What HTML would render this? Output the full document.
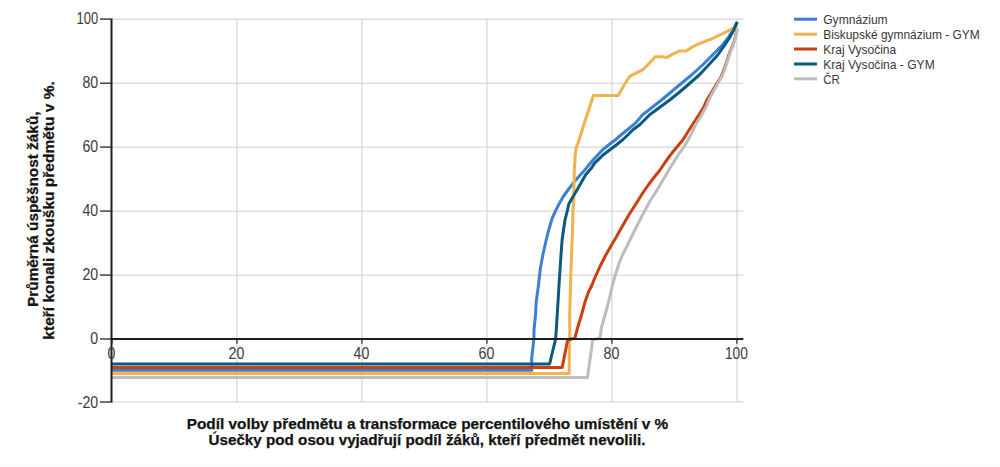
<!DOCTYPE html>
<html><head><meta charset="utf-8"><title>Chart</title>
<style>
html,body{margin:0;padding:0;background:#fff;}
body{width:1000px;height:467px;overflow:hidden;}
svg{display:block;}
text{font-family:"Liberation Sans",sans-serif;}
.num{font-size:16px;fill:#3c3c3c;}
.leg{font-size:12.6px;fill:#383838;}
.ttl{font-size:14px;font-weight:bold;fill:#141414;stroke:#141414;stroke-width:0.25px;}
</style></head>
<body>
<svg width="1000" height="467" viewBox="0 0 1000 467">
<rect width="1000" height="467" fill="#fff"/>
<rect x="0" y="464" width="1000" height="3" fill="#fbfbfb"/>
<line x1="112" y1="19.1" x2="743.5" y2="19.1" stroke="#cdcdcd" stroke-width="1"/>
<line x1="112" y1="83.2" x2="743.5" y2="83.2" stroke="#cdcdcd" stroke-width="1"/>
<line x1="112" y1="147.1" x2="743.5" y2="147.1" stroke="#cdcdcd" stroke-width="1"/>
<line x1="112" y1="211.1" x2="743.5" y2="211.1" stroke="#cdcdcd" stroke-width="1"/>
<line x1="112" y1="275.1" x2="743.5" y2="275.1" stroke="#cdcdcd" stroke-width="1"/>
<line x1="112" y1="402.0" x2="743.5" y2="402.0" stroke="#cdcdcd" stroke-width="1"/>
<line x1="236.9" y1="19" x2="236.9" y2="402" stroke="#cdcdcd" stroke-width="1"/>
<line x1="361.9" y1="19" x2="361.9" y2="402" stroke="#cdcdcd" stroke-width="1"/>
<line x1="486.9" y1="19" x2="486.9" y2="402" stroke="#cdcdcd" stroke-width="1"/>
<line x1="611.9" y1="19" x2="611.9" y2="402" stroke="#cdcdcd" stroke-width="1"/>
<line x1="736.9" y1="19" x2="736.9" y2="402" stroke="#cdcdcd" stroke-width="1"/>
<polyline points="111.0,370.2 531.7,370.2 531.7,358.0 533.9,339.2 534.0,330.0 535.5,315.0 536.2,302.0 538.5,285.0 540.4,268.3 542.8,255.0 546.2,240.0 548.7,230.0 552.3,218.0 556.0,210.0 559.6,202.9 563.6,196.0 568.0,190.0 573.2,183.1 580.2,175.0 584.0,171.0 588.0,166.0 593.0,160.0 602.4,150.0 608.5,145.0 615.2,140.0 621.0,135.0 627.1,130.0 636.0,122.6 642.4,115.0 652.0,107.5 661.5,100.0 670.5,92.5 679.4,85.0 691.5,75.0 702.6,65.0 712.5,55.0 722.4,45.0 728.0,38.0 733.0,30.0 737.0,22.5" fill="none" stroke="#3a80d4" stroke-width="3" stroke-linejoin="round"/>
<polyline points="111.0,373.6 569.2,373.6 569.4,345.0 569.7,335.0 569.7,315.0 570.0,302.0 570.5,285.0 571.5,255.0 572.5,230.0 573.0,210.0 573.8,199.0 574.0,185.0 574.3,170.0 575.0,160.0 575.4,153.0 576.3,147.5 578.0,143.0 580.0,137.0 585.0,121.0 590.0,106.0 591.9,100.0 593.3,95.4 618.2,95.4 621.0,90.5 624.1,85.0 627.0,80.5 630.0,76.2 635.9,73.2 642.9,69.7 648.8,63.8 655.2,56.8 661.1,56.8 667.0,57.4 672.3,54.4 679.1,51.0 686.0,51.0 692.8,46.7 700.0,43.3 711.4,39.0 722.1,33.9 730.7,29.6 737.0,26.0" fill="none" stroke="#efb24c" stroke-width="3" stroke-linejoin="round"/>
<polyline points="111.0,367.4 562.2,367.4 567.7,339.8 574.9,338.2 577.5,328.0 581.5,315.0 585.0,302.0 588.5,292.0 592.0,285.0 594.5,278.5 600.2,266.0 605.8,255.0 611.5,245.0 616.0,237.5 620.2,230.0 624.5,222.5 628.8,215.0 633.6,207.5 638.4,200.0 643.0,192.5 648.3,185.0 654.0,177.5 660.0,170.0 665.0,162.5 670.4,155.0 676.5,147.5 682.8,140.0 687.5,132.5 692.2,125.0 698.8,115.0 703.5,107.5 706.8,100.0 711.8,92.0 716.0,85.0 721.0,77.0 723.8,70.0 726.5,62.5 728.8,55.0 732.8,45.0 735.4,37.0 737.2,28.8" fill="none" stroke="#ca400e" stroke-width="3" stroke-linejoin="round"/>
<polyline points="111.0,364.0 549.6,364.0 555.6,339.0 556.4,328.0 557.2,315.0 558.0,302.0 559.0,285.0 560.0,270.0 561.0,255.0 562.1,240.0 563.5,230.0 565.0,220.0 567.5,210.0 568.8,204.0 572.2,198.0 577.0,190.0 581.0,183.0 585.5,175.0 591.7,167.7 594.3,163.4 597.5,160.3 603.0,155.0 609.6,150.0 616.2,145.0 622.4,140.0 627.8,135.0 632.7,130.0 640.0,124.5 649.4,115.0 659.5,107.5 669.7,100.0 679.0,92.5 687.8,85.0 699.2,75.0 708.6,65.0 717.7,55.0 724.8,45.0 730.0,37.0 734.2,29.0 737.3,21.8" fill="none" stroke="#0b5a7b" stroke-width="3" stroke-linejoin="round"/>
<polyline points="111.0,377.4 587.6,377.4 592.7,339.8 599.9,338.2 601.4,328.0 605.0,315.0 608.5,302.0 612.5,285.0 615.0,276.0 619.5,262.0 622.5,255.0 627.5,245.0 634.8,230.0 642.4,215.0 650.6,200.0 655.5,192.5 660.0,185.0 664.5,177.5 668.8,170.0 673.5,162.5 678.2,155.0 683.5,147.5 688.2,140.0 692.0,132.5 695.5,125.0 701.6,115.0 706.3,106.5 708.8,100.0 713.0,92.0 716.9,85.0 721.6,77.0 724.6,70.0 727.0,62.5 729.4,55.0 733.2,45.0 735.6,37.0 737.4,28.8" fill="none" stroke="#bdbcbe" stroke-width="3" stroke-linejoin="round"/>
<line x1="111.5" y1="18.6" x2="111.5" y2="402.6" stroke="#1e1e1e" stroke-width="2"/>
<line x1="110.5" y1="339" x2="743.3" y2="339" stroke="#1e1e1e" stroke-width="2"/>
<line x1="100" y1="19.1" x2="111" y2="19.1" stroke="#333" stroke-width="1.4"/>
<line x1="100" y1="83.2" x2="111" y2="83.2" stroke="#333" stroke-width="1.4"/>
<line x1="100" y1="147.1" x2="111" y2="147.1" stroke="#333" stroke-width="1.4"/>
<line x1="100" y1="211.1" x2="111" y2="211.1" stroke="#333" stroke-width="1.4"/>
<line x1="100" y1="275.1" x2="111" y2="275.1" stroke="#333" stroke-width="1.4"/>
<line x1="100" y1="339.0" x2="111" y2="339.0" stroke="#333" stroke-width="1.4"/>
<line x1="100" y1="402.0" x2="111" y2="402.0" stroke="#333" stroke-width="1.4"/>
<line x1="111.9" y1="339" x2="111.9" y2="343.8" stroke="#222" stroke-width="1.2"/>
<line x1="236.9" y1="339" x2="236.9" y2="343.8" stroke="#222" stroke-width="1.2"/>
<line x1="361.9" y1="339" x2="361.9" y2="343.8" stroke="#222" stroke-width="1.2"/>
<line x1="486.9" y1="339" x2="486.9" y2="343.8" stroke="#222" stroke-width="1.2"/>
<line x1="611.9" y1="339" x2="611.9" y2="343.8" stroke="#222" stroke-width="1.2"/>
<line x1="736.9" y1="339" x2="736.9" y2="343.8" stroke="#222" stroke-width="1.2"/>
<text transform="translate(98.2,23.93) scale(0.81,1)" text-anchor="end" class="num">100</text>
<text transform="translate(98.2,87.93) scale(0.885,1)" text-anchor="end" class="num">80</text>
<text transform="translate(98.2,151.93) scale(0.885,1)" text-anchor="end" class="num">60</text>
<text transform="translate(98.2,215.93) scale(0.885,1)" text-anchor="end" class="num">40</text>
<text transform="translate(98.2,279.93) scale(0.885,1)" text-anchor="end" class="num">20</text>
<text transform="translate(98.2,343.93) scale(0.885,1)" text-anchor="end" class="num">0</text>
<text transform="translate(98.2,407.93) scale(0.885,1)" text-anchor="end" class="num">-20</text>
<text transform="translate(111.4,359.03) scale(0.885,1)" text-anchor="middle" class="num">0</text>
<text transform="translate(236.4,359.03) scale(0.885,1)" text-anchor="middle" class="num">20</text>
<text transform="translate(361.4,359.03) scale(0.885,1)" text-anchor="middle" class="num">40</text>
<text transform="translate(486.4,359.03) scale(0.885,1)" text-anchor="middle" class="num">60</text>
<text transform="translate(611.4,359.03) scale(0.885,1)" text-anchor="middle" class="num">80</text>
<text transform="translate(736.4,359.03) scale(0.86,1)" text-anchor="middle" class="num">100</text>
<line x1="794" y1="19.2" x2="817" y2="19.2" stroke="#3a80d4" stroke-width="3"/>
<text x="823.2" y="24.0" class="leg" textLength="64.5" lengthAdjust="spacingAndGlyphs">Gymnázium</text>
<line x1="794" y1="34.2" x2="817" y2="34.2" stroke="#efb24c" stroke-width="3"/>
<text x="823.2" y="39.0" class="leg" textLength="156.5" lengthAdjust="spacingAndGlyphs">Biskupské gymnázium - GYM</text>
<line x1="794" y1="49.0" x2="817" y2="49.0" stroke="#ca400e" stroke-width="3"/>
<text x="823.2" y="53.8" class="leg" textLength="73" lengthAdjust="spacingAndGlyphs">Kraj Vysočina</text>
<line x1="794" y1="64.0" x2="817" y2="64.0" stroke="#0b5a7b" stroke-width="3"/>
<text x="823.2" y="68.8" class="leg" textLength="111.5" lengthAdjust="spacingAndGlyphs">Kraj Vysočina - GYM</text>
<line x1="794" y1="78.8" x2="817" y2="78.8" stroke="#bdbcbe" stroke-width="3"/>
<text x="823.2" y="83.6" class="leg" textLength="16.5" lengthAdjust="spacingAndGlyphs">ČR</text>
<text x="427.5" y="428.9" text-anchor="middle" class="ttl" textLength="481.5" lengthAdjust="spacingAndGlyphs">Podíl volby předmětu a transformace percentilového umístění v %</text>
<text x="427" y="444.7" text-anchor="middle" class="ttl" textLength="437" lengthAdjust="spacingAndGlyphs">Úsečky pod osou vyjadřují podíl žáků, kteří předmět nevolili.</text>
<g transform="translate(38.4,209.2) rotate(-90)"><text x="0" y="0" text-anchor="middle" class="ttl" textLength="195.5" lengthAdjust="spacingAndGlyphs">Průměrná úspěšnost žáků,</text></g>
<g transform="translate(53.8,210.4) rotate(-90)"><text x="0" y="0" text-anchor="middle" class="ttl" textLength="258.5" lengthAdjust="spacingAndGlyphs">kteří konali zkoušku předmětu v %.</text></g>
</svg>
</body></html>
